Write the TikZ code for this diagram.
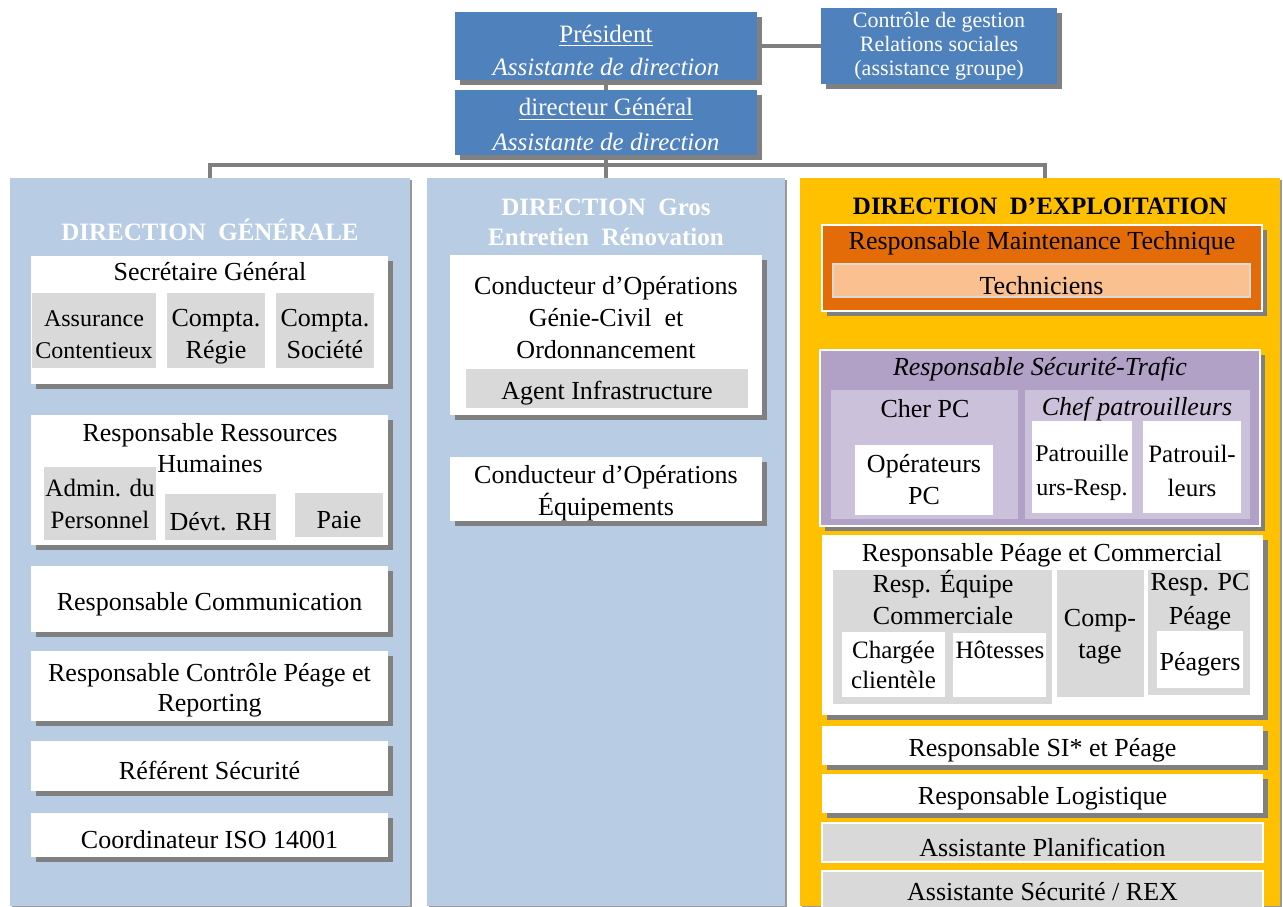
\documentclass[tikz,border=0pt]{standalone}
\usepackage{fontspec}
\setmainfont{Liberation Serif}
\usetikzlibrary{positioning,shadows}

\definecolor{topblue}{HTML}{4F81BD}
\definecolor{colblue}{HTML}{B8CCE4}
\definecolor{gold}{HTML}{FFC000}
\definecolor{maintorange}{HTML}{E36C09}
\definecolor{lightorange}{HTML}{FAC090}
\definecolor{purpledark}{HTML}{B2A1C7}
\definecolor{purplelight}{HTML}{CCC1DA}
\definecolor{unitgray}{HTML}{D9D9D9}
\definecolor{linkgray}{HTML}{7F7F7F}

% strut that pushes the first line of a box text down
\newcommand{\sinkln}[1]{\rule{0pt}{#1}}

\begin{document}
\begin{tikzpicture}[
  x=0.5pt,y=-0.5pt,
  place/.style n args={4}{anchor=north west,at={(#1,#2)},minimum width={(#3-#1)*0.5pt},minimum height={(#4-#2)*0.5pt}},
  base/.style={inner sep=0pt,outer sep=0pt,align=center,font=\fontsize{13}{16}\selectfont},
  sunk/.style={execute at begin node={\sinkln{14pt}}},
  boxshade/.style={drop shadow={shadow xshift=2.5pt,shadow yshift=-2.5pt,fill=black!50,opacity=1}},
  colshade/.style={drop shadow={shadow xshift=1.2pt,shadow yshift=-1.2pt,fill=black!40,opacity=1}},
  topbox/.style={base,fill=topblue,text=white,boxshade},
  column/.style={base,colshade},
  wbox/.style={base,sunk,fill=white,boxshade},
  gbox/.style={base,sunk,fill=unitgray},
  inbox/.style={base,sunk,fill=white},
  txt/.style={base},
  head/.style={base,font=\bfseries\fontsize{12.5}{15}\selectfont},
  link/.style={draw=linkgray,line width=2pt}
]
\useasboundingbox (0,0) rectangle (1283,906);

% Direction
\node[topbox,place={455}{12}{757}{80},font=\fontsize{12.5}{16.5}\selectfont] (pres) {\sinkln{13pt}\underline{Président}\\\textit{Assistante de direction}};
\node[topbox,place={821}{8}{1057}{84},font=\fontsize{11}{12}\selectfont] (ctrl) {Contrôle de gestion\\Relations sociales\\(assistance groupe)};
\node[topbox,place={455}{90}{757}{155},font=\fontsize{12.5}{17.5}\selectfont] (dg) {\sinkln{11pt}\underline{directeur Général}\\\textit{Assistante de direction}};

% Columns
\node[column,fill=colblue,place={10}{178}{410}{906}] (colL) {};
\node[column,fill=colblue,place={427}{178}{785}{906}] (colM) {};
\node[column,fill=gold,place={800}{178}{1280}{906}] (colR) {};

% Connections
\coordinate (bus) at (606,165);
\draw[link] (pres.east) -- (ctrl.west);
\draw[link] (pres.south) -- (dg.north);
\draw[link] (dg.south) -- (colM.north);
\draw[link] (colL.north) |- (bus) -| ([xshift=2.5pt]colR.north);

% Direction Generale
\node[head,text=white] (dgTitle) at (210,230) {DIRECTION\ \ GÉNÉRALE};
\node[wbox,place={31}{256}{388}{384}] (sg) {};
\node[txt] (sgT) at (210,272) {Secrétaire\ Général};
\node[gbox,place={32}{293}{156}{368},font=\fontsize{12}{16}\selectfont] (assur) {\sinkln{12pt}Assurance\\Contentieux};
\node[gbox,place={167}{293}{265}{368}] (cregie) {\sinkln{15pt}Compta.\\Régie};
\node[gbox,place={276}{293}{374}{368}] (csoc) {\sinkln{12.5pt}Compta.\\Société};

\node[wbox,place={31}{415}{388}{545}] (rh) {};
\node[txt,font=\fontsize{13}{15.5}\selectfont] (rhT) at (210,448) {Responsable Ressources\\Humaines};
\node[gbox,place={44}{467}{156}{540},font=\fontsize{12.5}{16}\selectfont] (admin) {Admin. du\\Personnel};
\node[gbox,place={165}{494}{276}{540}] (devrh) {Dévt. RH};
\node[gbox,place={295}{493}{383}{537}] (paie) {Paie};

\node[wbox,place={31}{566}{388}{632}] (com) {Responsable Communication};
\node[wbox,place={31}{651}{388}{721},font=\fontsize{13}{15}\selectfont] (cpr) {\sinkln{13pt}Responsable Contrôle Péage et\\Reporting};
\node[wbox,place={31}{741}{388}{791}] (refs) {Référent\ Sécurité};
\node[wbox,place={31}{813}{388}{857}] (iso) {Coordinateur ISO\ 14001};

% Direction Gros Entretien Renovation
\node[head,text=white] (germT) at (606,222) {DIRECTION\ \ Gros\\Entretien\ \ Rénovation};
\node[wbox,place={450}{255}{762}{415}] (cogc) {};
\node[txt] (cogcT) at (606,318) {Conducteur d’Opérations\\Génie-Civil\ \ et\\Ordonnancement};
\node[gbox,place={466}{369}{748}{408}] (agent) {Agent Infrastructure};
\node[wbox,place={450}{457}{762}{518}] (coeq) {\sinkln{13pt}Conducteur d’Opérations\\Équipements};

% Direction d'Exploitation
\node[head] (expT) at (1040,206) {DIRECTION\ \ D’EXPLOITATION};
\node[base,fill=maintorange,draw=white,line width=0.6pt,boxshade,place={822}{225}{1262}{311}] (maint) {};
\node[txt] (maintT) at (1042,243) {Responsable Maintenance Technique};
\node[base,sunk,fill=lightorange,draw=unitgray,line width=0.8pt,place={833}{264}{1250}{297}] (tech) {Techniciens};

\node[base,fill=purpledark,draw=white,line width=0.6pt,boxshade,place={820}{350}{1260}{526}] (secu) {};
\node[txt,font=\itshape\fontsize{13}{16}\selectfont] (secuT) at (1040,369) {Responsable Sécurité-Trafic};
\node[base,fill=purplelight,place={831}{390}{1018}{519}] (cherpc) {};
\node[txt] (cherpcT) at (925,409) {Cher PC};
\node[inbox,place={855}{445}{993}{515}] (oppc) {Opérateurs\\PC};
\node[base,fill=purplelight,place={1025}{390}{1250}{519}] (chefp) {};
\node[txt,font=\itshape\fontsize{13}{16}\selectfont] (chefpT) at (1137,409) {Chef patrouilleurs};
\node[inbox,place={1032}{421}{1132}{513},font=\fontsize{12}{17}\selectfont] (patresp) {\sinkln{14pt}Patrouille\\urs-Resp.};
\node[inbox,place={1143}{421}{1241}{513},font=\fontsize{12.5}{17}\selectfont] (patr) {\sinkln{13pt}Patrouil-\\leurs};

\node[wbox,place={822}{535}{1263}{715}] (peage) {};
\node[txt] (peageT) at (1042,555) {Responsable Péage et Commercial};
\node[gbox,place={833}{570}{1052}{704}] (equipe) {};
\node[txt] (equipeT) at (943,597) {Resp. Équipe\\Commerciale};
\node[inbox,place={842}{632}{945}{697},font=\fontsize{12.5}{15}\selectfont] (charg) {Chargée\\clientèle};
\node[inbox,place={953}{633}{1046}{697}] (hot) {};
\node[txt,font=\fontsize{12.5}{15}\selectfont] (hotT) at (1000,650) {Hôtesses};
\node[gbox,place={1057}{570}{1144}{697}] (compt) {};
\node[txt] (comptT) at (1100,637) {Comp-\\tage};
\node[gbox,place={1148}{570}{1250}{695}] (resppc) {};
\node[txt,font=\fontsize{13}{17}\selectfont] (resppcT) at (1200,602) {Resp. PC\\Péage};
\node[inbox,place={1157}{631}{1243}{688}] (peagers) {Péagers};

\node[wbox,place={822}{726}{1263}{765}] (si) {Responsable SI* et Péage};
\node[wbox,place={822}{774}{1263}{813}] (logi) {Responsable Logistique};
\node[gbox,draw=white,line width=0.8pt,place={822}{823}{1263}{862}] (plan) {Assistante Planification};
\node[base,fill=unitgray,draw=white,line width=0.8pt,place={822}{871}{1263}{912}] (rex) {Assistante Sécurité / REX};
\end{tikzpicture}
\end{document}
